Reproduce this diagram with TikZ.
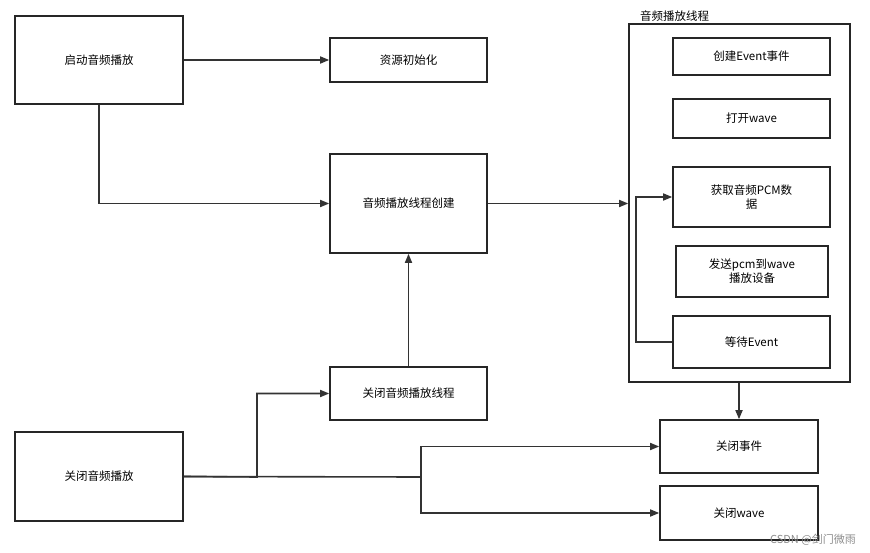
\documentclass[tikz,border=0pt]{standalone}
\usepackage{fontspec}
\setmainfont{Noto Sans CJK SC}
\usetikzlibrary{arrows.meta}
\begin{document}
\begin{tikzpicture}[x=1pt,y=-1pt,
  box/.style={draw=black!85,line width=1.6pt,inner sep=0pt,font=\fontsize{11.5}{14}\selectfont,align=center},
  ln/.style={draw=black!80,line width=1.6pt},
  ar/.style={ln,-{Triangle[length=9pt,width=7pt]}}]
\useasboundingbox (0,0) rectangle (870,553);
\newcommand{\bx}[6]{\node[box,minimum width=#4-#2,minimum height=#5-#3] (#1) at ({(#2+#4)/2},{(#3+#5)/2}) {#6};}
\bx{qd}{15}{16}{183}{104}{启动音频播放}
\bx{zy}{330}{38}{487}{82}{资源初始化}
\bx{cj}{330}{154}{487}{253}{音频播放线程创建}
\bx{gx}{330}{367}{487}{420}{关闭音频播放线程}
\bx{gb}{15}{432}{183}{521}{关闭音频播放}
\bx{ct}{629}{24}{850}{382}{}
\node[anchor=south west,inner sep=0pt,font=\fontsize{11.5}{14}\selectfont] (tt) at (640,22) {音频播放线程};
\bx{e1}{673}{38}{830}{75}{创建Event事件}
\bx{e2}{673}{99}{830}{138}{打开wave}
\bx{e3}{673}{167}{830}{227}{获取音频PCM数\\据}
\bx{e4}{676}{246}{828}{297}{发送pcm到wave\\播放设备}
\bx{e5}{673}{316}{830}{368}{等待Event}
\bx{g1}{660}{420}{818}{473}{关闭事件}
\bx{g2}{660}{486}{818}{540}{关闭wave}
\node[anchor=south east,inner sep=0pt,text=black!45,font=\fontsize{11}{13}\selectfont] (wm) at (856,546) {CSDN @剑门微雨};
\draw[ar] (qd.east) -- (zy.west);
\draw[ar] (qd.south) |- (cj.west);
\draw[ar] (cj.east) -- (cj.east -| ct.west);
\draw[ar] (gx.north) -- (cj.south);
\draw[ar] (gb.east) -- (257,477) |- (gx.west);
\draw[ln] (gb.east) -- (421,477);
\draw[ar] (421,477) |- (g1.west);
\draw[ar] (421,477) |- (g2.west);
\draw[ar] (ct.south -| g1.north) -- (g1.north);
\draw[ar] (e5.west) -- (636,342) |- (e3.west);
\end{tikzpicture}
\end{document}
